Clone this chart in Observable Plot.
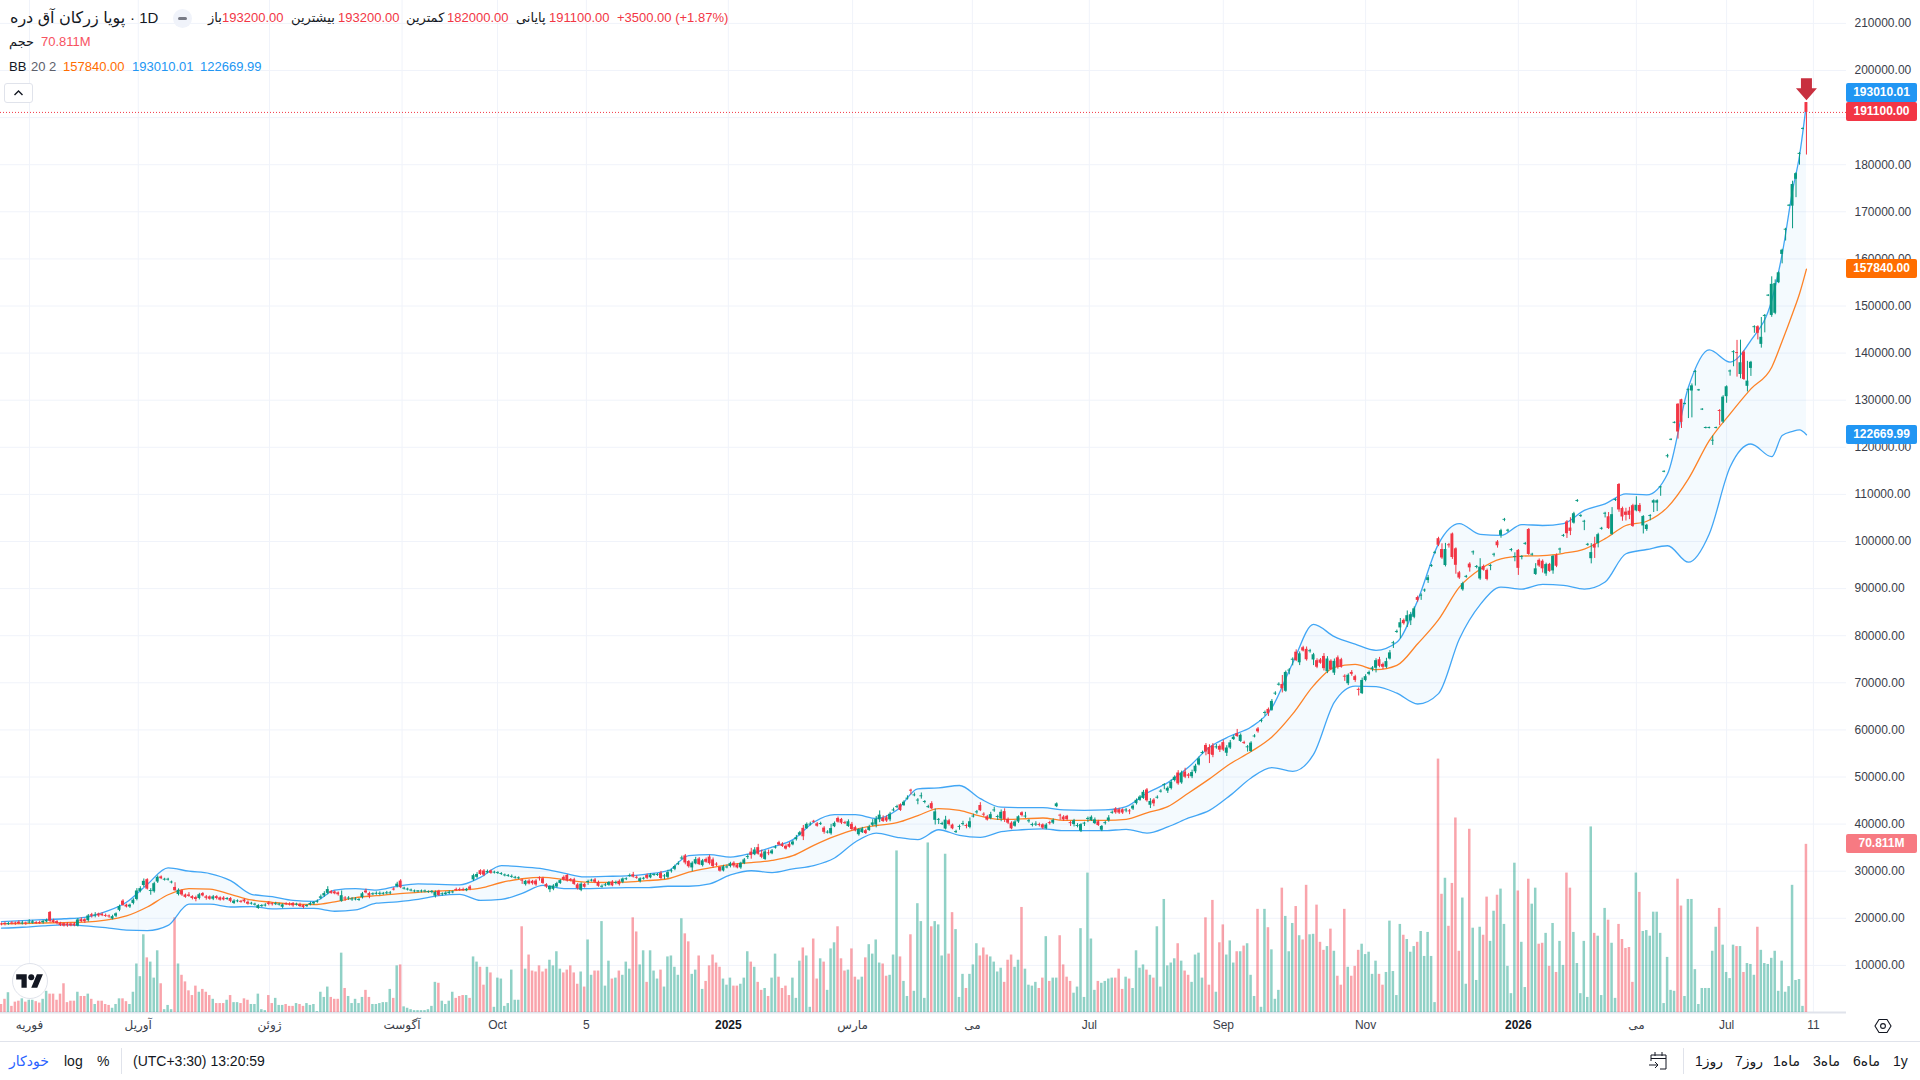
<!DOCTYPE html>
<html><head><meta charset="utf-8">
<script src="https://cdn.jsdelivr.net/npm/d3@7"></script>
<script src="https://cdn.jsdelivr.net/npm/@observablehq/plot@0.6"></script>
<style>
html,body{margin:0;padding:0;background:#fff;overflow:hidden}
body{width:1920px;height:1080px;position:relative;font-family:"Liberation Sans","DejaVu Sans",sans-serif;color:#131722}
svg{display:block}
.t{position:absolute;white-space:nowrap;font-size:13px;line-height:16px}
.tag{position:absolute;left:1846px;width:71px;height:19px;line-height:19px;color:#fff;font:bold 12px/19px "Liberation Sans",sans-serif;text-align:center;border-radius:2px}
.b{position:absolute;white-space:nowrap;font-size:14px;line-height:18px;top:1052px;color:#131722}
.r{color:#f23645}
</style></head><body>
<div id="chart"></div>
<script>
// Prices are in thousands on the right-hand scale.
const directions =
"rrgrrrgrgg"+"rrggrrrrrr"+"rrgrrgrgrr"+"rrgggrrggg"+"ggrgggrggg"+"rgrrrrrgrr"+"rgrrrgrggr"+"rrgggggrrg"+"ggrrrgrrgg"+"gggggrrrgr"+"gggggrrggg"+"gggrgrgggg"+"ggggggrggg"+"grrrgrggrr"+"grgg"+
"ggggggrgrr"+"rrrrggggrr"+"rrrgrggrrg"+"ggrgrgggrr"+"ggrgggrggg"+"gggrrggrgr"+"rrrrgggrrg"+"ggrgrrgrgg"+"rrrrgggrgg"+"rrgrgggrrr"+"grrggrgggg"+"rrgggrggrg"+"ggggrggggr"+"rgggrgggrr"+"rggg"+
"grrrggrggg"+"grrgrggrrr"+"rgggggggrg"+"gggrrrgrgg"+"ggrgrggggg"+"grgrrggggr"+"rrgrrgggrg"+"rgggrggrgg"+"grgggrgrrg"+
"grrrgrgrrr"+"grrrgggggr"+"rgggggrggg"+"rgggggrrgr"+"rrrggrgggr"+"rggrgggggr"+"ggrggrrgrg"+"rggrrggggg"+"grgggrggrr"+"rrrgrggggg"+"gggggrrggg"+"gggggggrgg"+"ggrgrgggrg"+"gggggggggg"+"ggr";

const volumes = [
1.7,2.8,4.2,1.3,2.2,2.4,2.9,2.2,2.6,2.6,2.3,2,2.8,4.5,3.9,3.9,2.6,3.9,6.1,2.1,
2.4,2.4,4.3,3.4,3.4,3.9,2.8,1.7,2.4,2.4,1.7,1.5,.9,1.7,2.9,2.9,2.3,1.7,4.3,10.3,
7.6,16.5,11.6,10.7,7.3,13.1,6.1,.6,1.5,.6,20.1,10.3,7.9,6.5,4.6,3.6,5.6,4.3,4.9,4.3,
3.6,2.8,1.9,1.9,1.9,2.6,3.6,2.1,2.1,1.9,2.9,2.6,1.7,1.7,3.9,.6,.4,3.6,1.9,3,
1.5,1.5,1.7,1.3,1.3,1.9,1.7,1.3,1.9,1.5,1.7,.2,4.3,3.2,5.4,3.2,2.8,2.8,12.6,5.1,
3.4,1.9,2.8,1.9,3.2,4.7,3.2,1.7,1.7,1.9,2.1,2.1,4.9,3,9.9,10.1,1.2,.9,.6,.4,
.4,.4,.4,.6,1.3,6.4,6.2,2.4,1.7,2.4,4.3,3,3.4,3.6,3.6,3,11.8,10.7,9.6,5.8,
9.6,8.4,1.1,7.3,
7.1,1.3,1.9,9,2.6,2.6,18.2,9.2,12.2,8.8,8.6,9.9,8.6,9.2,11.1,9.9,12.9,9.2,8.4,9,
9.9,8.4,6,8.6,5.4,15.4,7.9,8.8,8.8,19.3,5.6,10.9,7.1,7.3,8.8,7.9,10.7,9.2,20.1,17.1,
10.1,13.1,6.4,13.1,8.8,7.1,9,5.4,11.8,12,9.6,7.9,19.9,16.7,15,8.1,9,12,4.9,6.6,
9.9,12.2,10.5,9.6,7.1,5.8,7.3,5.6,5.6,6,7.3,12.9,10.7,9.6,6.4,4.7,5.1,3.4,7.3,12.4,
7.5,5.1,5.6,3.6,7.3,3,10.9,13.7,12,1.1,15.6,7.1,11.4,10.7,4.7,13.5,14.8,18.2,11.4,8.8,
9,13.5,7.5,6.9,7.5,11.6,14.4,12.4,15.4,10.5,10.3,7.7,7.9,12.2,34.3,11.8,6.6,3.4,16.5,4.5,
23.1,19.3,3,36,18.2,19.3,18.6,12,33.6,12.4,21.2,17.6,3.2,8.1,5.1,8.1,10.1,14.6,12,13.7,
12.2,11.8,10.7,8.6,
9.4,6.4,11.1,12.2,9.6,11.1,22.3,9.2,5.8,5.6,6.4,5.1,7.3,16.1,6.6,7.3,7.3,16.3,10.1,7.5,
6.6,4.1,5.4,17.8,3.2,29.6,15.6,4.7,6.6,6.2,6.6,7.1,7.3,7.3,9.2,4.9,7.5,7.1,5.1,13.1,
9.4,10.1,9,7.9,7.3,18.2,5.4,24,9.9,10.5,11.4,14.6,10.9,8.8,7.9,6.4,12.2,12.6,7.3,20.1,
5.8,23.8,4.3,14.8,18.6,12.2,15.2,10.5,12.9,12.9,14.1,14.6,7.9,3.4,21.9,1.1,21.9,18,13.3,2.8,
4.7,26.4,20.4,12.9,18.9,22.5,16.3,15.4,27,16.5,
16.6,22.8,14.9,13.2,14,17.7,13,7.7,5.8,21.9,9.6,7.7,9.8,13.2,14.5,12.3,12.8,8.1,10.9,8.1,
5.8,8.5,19.4,8.7,3.6,18.7,16.4,15.5,12.8,14,14.9,17.2,11.9,17,11.9,2.1,53.8,25.1,28.5,18.3,
27.4,41.3,13,24.3,6,38.9,17.9,6.8,18.1,16.4,24.5,15.1,21.5,24.9,26.2,18.7,9.8,4,31.7,25.8,
14.9,5.3,28.3,23,26.4,14.5,14.7,16.8,9.8,18.9,8.5,15.1,10,29.6,26.4,17,10.4,4,15.1,3.2,
39.4,16.8,16.2,3.6,22.1,19.6,14.7,3,18.7,15.5,13.6,13.8,6.4,29.6,25.5,17.2,17.4,16.2,21.3,21.3,
16.8,1.9,11.7,4.7,4.5,28.3,22.6,3.4,24,24,9.1,1.7,5.1,5.1,5.1,13,18.1,22.1,14.3,8.5,
7.2,14.3,14,14,8.5,10.4,10.2,7.9,18.1,13.2,10.4,10.2,11.5,13,4.5,10.9,4.3,5.5,27,6.8,
7,1.3,35.7];

const bodyMid = [
18.7,18.8,18.8,18.9,18.9,19,18.9,18.9,19.1,19.1,19,19,19.2,19.4,20.3,19.3,19.1,18.7,18.6,18.6,
18.6,18.6,19,19.5,19.5,20,20.6,20.6,20.7,20.7,20.5,20.4,20.1,20.7,22.1,23.2,22.6,22.6,23.5,24.9,
26,27.4,27.2,25.8,26.5,28.2,28.6,28.2,28.2,27.6,26.2,25.5,25.4,24.7,24.8,24.4,24.2,24.6,25,24.4,
24.3,24.3,24.4,24.1,24.1,24.1,23.9,23.4,23.6,23.5,23.7,23.2,23.1,22.9,22.4,22.6,22.7,23.1,23,23,
22.9,22.6,23,22.9,22.9,22.9,22.7,22.5,22.6,23,23.2,23.5,24.4,25,25.7,25.5,25.4,25.2,24.2,24.2,
24.2,24,24,23.9,24.8,25.6,25,25.1,25.2,25.2,25.2,25.3,25.3,26.1,27,27.2,26.3,26.1,25.9,25.7,
25.7,25.7,25.7,25.6,25.6,25.1,25.3,25.1,25.2,25.4,25.5,26,26,26,26,26.4,28.6,29,29.7,29.6,
29.8,29.8,29.7,29.6,
29.4,29.1,29,28.8,28.6,28.5,28,27.5,27.6,27.6,27.5,28.5,27.9,26.9,26.4,26.5,27,27.7,28.4,28.5,
28.1,27.7,26.7,26.6,26.9,27.7,28,27.9,27.2,26.7,27,27.3,27.3,27.5,27.5,28,28.3,29,29,28.6,
28.1,28.4,28.8,28.9,29.2,29.2,29,28.9,29.2,30,30.7,31.5,32.7,32.5,31.5,31.2,32,32,31.7,32.2,
32.3,31.7,31.4,30.4,30.5,30.8,31.3,31.4,31,31.2,32,33,33.7,34,34.3,33.3,33.3,33.8,34,35,
35.8,35.5,35,35.4,35.9,36.9,37.9,38.2,39.5,39.9,40.5,39.8,40,38.7,38.2,38.5,39.8,40.8,40.6,40.2,
40,39.4,38.9,38.3,38.6,38.3,39,40,40.4,41.4,40.9,41,41.5,42.9,43.6,43.5,44.3,45.4,47.1,46.1,
45,45.9,44.7,43.6,43.8,41.7,40.9,40,39.9,40.3,39.4,38.3,39.4,40,39.6,39.9,41.6,42.5,43.4,42,
41.2,41.6,42.9,41.5,
41.8,41.8,40.6,39.6,40,41,42.1,41.6,40.6,39.8,39.9,39.8,39.5,39.4,40.2,40.5,44,41.8,41.2,41.3,
40.2,40.3,39.6,39.2,40.1,41.1,41.1,40.5,40.1,39.1,40.2,41,42.4,42.8,42.7,42.7,42.9,42.7,43.5,44.7,
45.4,46.1,46.1,44.4,44.7,45.6,46.9,48.3,47.3,48.2,49.6,49.7,49.8,50.5,50.3,50.5,51.7,53.2,55.1,56,
55.5,55.6,56.3,56.1,56.5,55.6,56.7,58.2,58.9,58.2,57.2,56.3,56.3,58.6,59.9,61.9,63.6,63.9,65.1,67.7,
69.6,69.2,70.2,72.6,74.9,75.6,75.2,77.1,76,76.7,75.4,74,74.5,74.3,73.7,73.7,73.3,74.3,74.1,71.3,
70.7,72,70.9,68.5,69.1,70.9,72,73,73.9,74.2,73.6,73.9,75.7,78.4,80.8,82.2,
82.9,83.6,83.8,84.8,87.8,88.5,89.6,92,94.8,97.6,99.9,97.4,96.6,99.2,99.1,96.7,92.8,90.4,92.5,94.8,
97.7,94.6,93.3,94.3,92.9,94.8,97.2,99.5,101.8,104.6,102.3,98.2,96.7,96.2,96.7,99.5,99.9,97.2,93.6,95.4,
95,94.1,94.4,95.3,95.9,98.3,101.2,102.9,102.5,104.9,108.6,105.4,104.2,99.3,97,99,100.5,102.7,105.9,104,
103.6,108.8,109.4,106.1,105.9,106,105.4,107.1,107,104.3,103,105.4,108.4,108.4,
111.5,114.8,118.1,121.6,125.2,126.2,127.7,129.2,132.2,132.5,136,132.1,128,124.1,124.1,121.4,124.1,127.7,128,131.8,
136.1,140.2,140,136.7,137.3,133.5,137.4,145.5,144.9,142.6,147.9,152.2,151.3,151.6,156,161.4,166.2,171.3,173.5,177.5,
182.3,187.6,192.15];

const bodySize = [
.2,.2,.2,.2,.2,.3,.2,.2,.2,.3,.2,.2,.3,.3,1.9,.4,.4,.5,.5,.4,
.4,.4,1.3,.4,.4,1,.3,.2,.4,.3,.2,.2,.5,.5,.8,.9,.4,.4,.7,1.8,
.6,.9,2,.2,1.7,1,.4,.2,.2,.2,.7,.9,.9,.5,.3,.4,.4,.8,.5,.3,
.5,.5,.4,.5,.4,.2,.6,.5,.2,.2,.4,.4,.2,.2,.6,.2,.2,.3,.2,.2,
.2,.5,.2,.2,.5,.2,.4,.4,.2,.3,.3,.2,.3,.5,.8,.4,.4,.4,1.2,.2,
.2,.2,.2,.2,.8,.4,.5,.2,.2,.2,.2,.2,.2,.2,.5,1.4,.2,.2,.2,.2,
.2,.2,.2,.2,.2,.8,.9,.2,.3,.3,.2,.2,.2,.2,.3,.5,.9,.6,.8,.9,
.3,.5,.2,.2,
.2,.2,.2,.2,.2,.2,.2,.7,.6,.5,.8,.2,1,.5,.7,.7,.7,.6,.6,1.2,
.3,1,.8,1.3,.6,.2,.2,.5,.8,.2,.2,.6,.8,.2,.7,.7,.2,.2,.5,.2,
.6,.2,.6,.6,.2,.2,1.1,.2,1,.2,.6,.2,.2,1.5,1.1,1,.9,1.2,1,.6,
1.4,1.4,.2,.8,.9,.2,.6,.6,.6,1,.8,.2,.7,1,1.4,.7,1.6,.2,.6,.2,
.5,.5,.6,.6,.6,.4,.5,1.8,.9,.2,.2,.5,.2,.9,.2,1.1,.7,.8,.8,.2,
1,1.1,.7,1.1,.8,.6,.7,.5,1.2,1,.7,.7,1.2,.2,.2,1.2,.7,.2,.2,.2,
.2,.2,.2,.2,1.1,1.8,.2,.2,1.9,.8,.8,.2,.2,.2,.2,1.2,.2,.2,1.1,.2,
.7,.8,.2,.2,
1.4,1.7,.8,1.2,.9,1.1,.6,.2,.2,.2,.2,.2,.7,.8,.2,.6,.6,.2,.6,.7,
.2,.8,.2,1.4,.2,.2,.7,.8,.8,.8,.2,.6,.2,.8,.7,.7,.2,.2,.6,.7,
.7,1.3,2.3,.8,.8,.2,.2,.2,.6,1.3,.7,2.3,2.1,1.1,.3,.9,1.2,1.3,.2,1.4,
1.5,2,.2,.8,1.6,1.1,1.1,.5,.6,1.3,.2,.2,1.8,.2,.6,.2,.2,.9,1.9,.2,
.2,.9,4,.2,.2,1.8,1.9,.7,2.2,.2,1.1,1.4,.7,2.6,2.7,1.8,2.5,2,1.6,.2,
1.8,.4,.8,.2,2.8,.8,.4,.3,1.6,1.4,.6,1.2,1.3,.2,.2,1.1,
.7,1.3,1.3,1.8,.6,.2,.2,.6,.2,.2,1.4,1.8,3.4,.2,5,3.5,1.1,1.3,.2,.8,
.2,.2,2.5,.8,1.9,.2,.2,.8,1,.2,.2,.2,.2,3.8,.2,.2,5.3,.2,1.2,1.2,
1.6,2,1.5,3.1,2.3,.2,.2,2.5,.7,2,.2,.2,.2,.2,1.3,.8,1.9,.2,.2,2.5,
4.2,.2,5.4,1.8,.7,.9,4.4,1.2,1.3,2,.9,.2,.5,.5,
.2,.2,.2,.2,.2,5.9,4.8,.2,.2,1.1,.2,.2,.2,.2,.2,.2,.2,.2,5.3,2.1,
.2,.2,.2,2.5,5.8,1.1,1.3,.2,1.4,1.5,.2,.2,6.6,6.3,2.1,.9,.2,.2,4.6,1.2,
.2,.2,2.1];

const wickUp = [
.2,.3,.2,.3,.2,.3,.4,.2,.5,.3,.2,.3,.2,.3,.2,.3,.2,.2,.2,.3,
.2,.3,.3,.4,.2,.3,.3,.5,.2,.3,.3,.2,.3,.2,.3,.3,.2,.2,.3,.5,
.4,.5,.2,.4,.3,.3,.2,.2,.2,.2,1,.3,.2,.2,.5,.2,.3,.3,.2,.3,
.2,.3,.2,.2,.3,.2,.2,.3,.2,.2,.2,.3,.2,.2,.2,.2,.3,.3,.2,.3,
.2,.2,.2,.3,.2,.2,.3,.2,.2,.3,.2,.3,.4,.4,.6,.2,.2,.2,1,.3,
.3,.3,.3,.2,.3,.4,.3,.2,.3,.3,.2,.3,.3,.3,.4,.3,.2,.2,.2,.2,
.1,.2,.2,.1,.2,.3,.2,.2,.3,.3,.2,.3,.3,.3,.2,.3,.3,.4,.2,.3,
.3,.2,.2,.2,
.2,.2,.2,.3,.2,.2,.2,.2,.3,.2,.3,.2,.3,.2,.2,.3,.3,.2,.3,.2,
.2,.3,.3,.3,.2,.3,.2,.3,.3,.3,.3,.2,.3,.3,.3,.2,.2,.3,.5,.3,
.2,.2,.3,.3,.2,.2,.4,.3,.5,.3,.3,.4,.4,.3,.2,.3,.5,.3,.3,.3,
.4,.4,.3,.2,.3,.4,.3,.3,.3,.2,.3,.4,.8,.5,.7,.8,.3,.6,.3,.3,
.3,.3,.3,.4,.3,.5,.3,.6,.3,.4,.2,.3,.3,.3,.3,.9,.3,.3,.2,.3,
.4,.4,.3,.2,.3,.3,.4,.7,.6,.9,.5,.4,.4,.4,.3,.2,.3,.5,.2,.4,
.3,.6,.2,.3,.4,.6,.2,.3,.8,.3,.2,.3,.3,.5,.3,.8,.4,.3,.6,.3,
.3,.5,.6,.3,
.5,.6,.3,.3,.3,.2,.2,.8,.3,.3,.5,.3,.2,.3,.3,.3,.2,.2,.3,.2,
.3,.3,.4,.2,.2,.3,.3,.4,.3,.2,.3,.5,.3,.3,.3,.2,.3,.3,.3,.3,
.3,.4,.3,.6,.3,.3,.3,.2,.3,.5,.3,.5,.4,.8,.3,.5,.4,.4,.3,.4,
.6,.5,.5,.3,.5,.5,.5,.4,.9,.3,.3,.3,.3,.3,.3,.3,.3,.3,.4,.3,
.3,1.9,.3,.3,.3,.5,.4,.3,.5,.3,.3,.4,.3,.6,.5,.3,.5,.4,.3,.3,
.3,.4,.3,.3,.5,.4,.3,.3,.4,.5,.3,.7,.5,.3,.3,.9,
.3,1,.5,.4,.3,.3,.2,.5,.2,.2,.3,1.2,1.3,.3,.2,.2,.3,.3,.2,.3,
.2,.2,1.8,.3,.3,.2,.2,.3,.3,.2,.2,.2,.8,.2,.2,.2,.2,.2,1.1,.3,
.3,.3,.2,.2,.3,.2,.2,.3,2.2,.3,.2,.2,.2,.2,1.9,1.5,.3,.2,.2,.9,
1.5,.2,.2,.3,.8,.8,.3,1.8,.4,.2,.2,.2,.2,.2,
.1,.1,.3,.1,.1,.1,.1,.1,.1,.4,.2,.1,.1,.1,.1,.9,.1,.2,.3,.2,
.2,.2,2.6,4.8,.3,4.2,.2,.2,.2,4.2,.2,.1,1.6,.8,.2,.2,.2,.1,.7,.2,
.2,.1,0];

const wickDown = [
.2,.3,.2,.2,.3,.2,.2,.3,.2,.2,.2,.2,.3,.2,.3,.2,.3,.2,.2,.3,
.2,.2,.2,.2,.4,.3,.4,.4,.3,.2,.2,.3,.2,.3,.3,.2,.2,.3,.3,.3,
.3,.4,.2,.8,.3,.3,.2,.2,.2,.2,.1,.3,.3,.2,.2,.3,.5,.3,.2,.4,
.2,.3,.3,.2,.2,.2,.3,.2,.2,.2,.3,.2,.2,.2,.2,.2,.2,.3,.3,.2,
.2,.3,.2,.2,.3,.2,.2,.3,.2,.2,.3,.2,.3,.3,.3,.2,.2,.3,.2,.5,
.3,.3,.2,.2,.3,.2,.6,.2,.2,.3,.2,.2,.2,.2,.3,.2,.2,.2,.2,.2,
.2,.2,.2,.2,.3,.4,.2,.3,.2,.2,.2,.2,.2,.2,.2,.3,.3,.3,.2,.3,
.2,.2,.2,.2,
.2,.2,.2,.2,.2,.2,.7,.3,.2,.3,.3,.5,.2,.3,.6,.3,.2,.2,.2,.2,
.2,.2,.3,.3,.2,.6,.2,.3,.2,.2,.2,.2,.2,.3,.3,.3,.2,.2,.2,.2,
.3,.2,.3,.2,.2,.2,.3,.6,.3,.3,.3,.2,.2,.4,.3,.8,.2,.2,.3,.2,
.3,.4,.3,.2,.2,.2,.3,.4,.2,.3,.2,.4,.8,.2,.2,.3,.2,.4,.2,.2,
.2,.2,.2,.2,.2,.3,.2,.8,.2,.2,.2,.2,.2,.4,.2,.3,.2,.2,.3,.2,
.2,.3,.2,.3,.2,.2,.2,.3,.6,.6,.2,.3,.4,.2,.2,.2,.2,.2,.8,.2,
.8,.5,.3,.2,.2,1,.9,.2,.2,.3,.2,.2,.6,.3,.5,.3,.2,.3,.2,.4,
.2,.3,.3,.6,
.6,.6,.3,.2,.2,.3,.3,.3,.3,.3,.3,.3,.3,.2,.3,.3,.2,.9,.3,.3,
.6,.5,.3,.3,.5,.7,.2,.2,.2,.3,.3,.3,.2,.3,.3,.3,.4,.6,.3,.3,
.2,.2,.3,.7,.6,.2,.2,.9,.5,.3,.3,.3,.3,.3,.5,.4,.4,.2,.2,.8,
1.9,.5,.3,.5,.3,.7,.3,.2,.2,.2,.2,.9,.2,.2,.3,.3,.6,.6,.2,.3,
.2,.9,.2,.8,1.2,.2,.6,.2,.3,.3,1.2,.3,.2,.5,.4,.2,.5,.4,.2,.9,
.4,.4,.4,1.2,.2,.3,.3,.5,1,.3,.5,.3,.2,1,.2,2.3,
.3,1.2,1,.3,.4,.9,.3,.6,.2,.2,.3,.3,.3,.5,.4,1.9,.3,.3,.2,.9,
.5,.3,.3,.2,.3,.9,.4,.5,.6,.3,.3,.3,.9,1.5,.5,.2,.2,.2,.2,.3,
.9,.5,.2,.7,.3,.8,.2,1,.9,.2,.2,.2,1.8,.2,1.1,2.2,.9,.2,.8,.2,
.2,.2,.5,.9,1.2,.9,.2,.2,.3,1.7,.4,.9,2,1.8,
1.8,.1,.3,.1,.1,1.5,1.3,.1,6,5.7,2.9,.1,.1,.1,.1,.9,.1,3,.3,1.4,
.9,3,5,.9,.2,1.2,1.7,1.2,1.4,.8,3.5,.1,.4,.3,.2,2,2.3,.1,4.8,3.9,
2.3,.1,9.05];

const bandIndex = d3.range(0,516,6).concat([513,516,518,520]);
const bandUpper = [
19.3,19.5,19.7,19.9,20.2,21.4,23.4,27.2,30.7,30,29.5,28,25.1,24.6,23.8,23.6,26,26.3,26,26.8,27.3,27.2,27.1,28.7,
31.2,30.9,30.5,29.6,28.8,28.9,29,29.4,30.1,33.3,33.5,33,33.8,35.1,36.7,40.4,42,42,41.2,43,47.5,47.7,48.2,45.4,
43.6,43.5,43.5,43,42.9,43,43.7,46.6,48.8,52.1,56.3,58.7,60.6,64.7,74.2,82.4,79.8,78.2,76.9,78.6,
87.5,99.5,103.8,101.5,101.3,103.6,103.4,103.8,106.6,108,110.1,109.9,
114.4,132.8,140.7,138.1,142.7,151.2,161,174.5,181.9,193.01];
const bandMiddle = [
18.8,18.9,19,19.1,19.2,19.6,20.5,22.4,25,26.3,26.2,25.1,23.9,23.4,23,22.9,23.5,24.4,24.8,25.2,25.5,25.8,26,26.4,
27.6,28.4,28.7,28.2,27.7,27.6,27.7,28,28.4,29.8,30.7,31.4,31.8,32.3,33.3,35.5,37.4,38.9,39.7,40.3,41.8,43.3,42.9,41.7,
41,41.1,41.3,40.8,40.8,40.8,41,42.4,43.7,46.6,49.6,52.8,55.4,58.5,63.4,69.4,73.3,73.9,72.8,73.7,
78.3,83.4,90.3,94.1,96.3,96.9,97,97.5,98.4,100.6,103.4,104.3,
107.3,113.3,121.4,127.1,132.4,137,142.5,148.4,152.6,157.84];
const bandLower = [
17.9,18.1,18.4,18.6,18.4,18,17.5,17.4,18.5,23,23,22.4,22.5,22,22.1,22.1,21.5,21.8,23.2,23.5,24,24.8,25.1,23.8,
24,25.3,27,26.3,26.3,26.4,26.5,26.5,26.8,26.8,27.3,29.2,30.1,29.7,30.5,31.2,32.8,36.2,38.1,37.2,36.7,38.8,37.6,37.2,
38.4,38.8,39,38.6,38.6,38.6,38.9,38.1,39.4,41.3,42.9,46.1,49.8,52,51.2,54.8,65.9,69.3,69.2,67.8,
65.5,67.7,79.3,86.6,90.3,89.9,90.9,90.7,89.9,91.4,97.4,98.3,
99.1,95.6,101.6,115.8,120.7,118,122.5,123.4,123.7,122.67];

const xTickIndex = [8.07,39.4,77.2,115.4,142.9,168.5,209.4,245.2,279.7,313.4,352,393,437,471,497,522];
const xTickLabels = ["فوریه","آوریل","ژوئن","آگوست","Oct","5","2025","مارس","می","Jul","Sep","Nov","2026","می","Jul","11"];
const boldTicks = ["2025","2026"];
const yTicks = d3.range(10000,210001,10000);
const yTickLabelled = yTicks.filter(v=>v!==190000); // the 190000 label sits under the last-price tag
const lastPrice = 191100, alertPrice = 196000;

const GREEN="#089981", RED="#f23645", BLUE="#2196f3", ORANGE="#ff6d00", GRID="#f0f3fa";
const bars = bodyMid.map((m,i)=>{
  const half=bodySize[i]/2, top=m+half, bot=m-half;
  return {i, color:directions[i]==="g"?GREEN:RED,
    bodyTop:top*1000, bodyBot:bot*1000,
    high:(top+wickUp[i])*1000, low:(bot-wickDown[i])*1000, vol:volumes[i]*1000};
});
const band = bandIndex.map((i,k)=>({i,u:bandUpper[k]*1000,m:bandMiddle[k]*1000,l:bandLower[k]*1000}));
const labelOf = new Map(xTickIndex.map((t,k)=>[t,xTickLabels[k]]));
const boldIdx = xTickIndex.filter(t=>boldTicks.includes(labelOf.get(t)));
const normIdx = xTickIndex.filter(t=>!boldTicks.includes(labelOf.get(t)));
const arrow = {draw(c,size){const r=Math.sqrt(size/Math.PI);const u=r/11;
  c.moveTo(-5.5*u,-11*u);c.lineTo(5.5*u,-11*u);c.lineTo(5.5*u,-1*u);c.lineTo(10.5*u,-1*u);
  c.lineTo(0,11*u);c.lineTo(-10.5*u,-1*u);c.lineTo(-5.5*u,-1*u);c.closePath();}};

const chart = Plot.plot({
  width:1920,height:1080,marginLeft:0,marginRight:74,marginTop:0,marginBottom:68,
  style:{fontFamily:'"Liberation Sans","DejaVu Sans",sans-serif',fontSize:"12px",background:"#fff",color:"#131722"},
  x:{domain:[-0.288,531.54]},
  y:{domain:[0,214862]},
  color:{type:"identity"},
  marks:[
    Plot.gridX(xTickIndex,{stroke:GRID,strokeOpacity:1}),
    Plot.gridY(yTicks,{stroke:GRID,strokeOpacity:1}),
    Plot.ruleY([0],{stroke:"#e0e3eb",strokeWidth:2}),
    Plot.axisY(yTickLabelled,{anchor:"right",tickSize:0,tickPadding:8,tickFormat:d=>d.toFixed(2),label:null,fill:"#3a3e4a"}),
    Plot.axisX(normIdx,{anchor:"bottom",tickSize:0,tickPadding:8,tickFormat:d=>labelOf.get(d),label:null,fill:"#3a3e4a"}),
    Plot.axisX(boldIdx,{anchor:"bottom",tickSize:0,tickPadding:8,tickFormat:d=>labelOf.get(d),label:null,fill:"#131722",fontWeight:"bold"}),
    Plot.rectY(bars,{x1:d=>d.i-.36,x2:d=>d.i+.36,y1:0,y2:"vol",fill:"color",fillOpacity:.45}),
    Plot.areaY(band,{x:"i",y1:"l",y2:"u",fill:BLUE,fillOpacity:.05,curve:"monotone-x"}),
    Plot.line(band,{x:"i",y:"m",stroke:ORANGE,strokeWidth:1.3,strokeOpacity:.85,curve:"monotone-x"}),
    Plot.line(band,{x:"i",y:"u",stroke:BLUE,strokeWidth:1.3,strokeOpacity:.85,curve:"monotone-x"}),
    Plot.line(band,{x:"i",y:"l",stroke:BLUE,strokeWidth:1.3,strokeOpacity:.85,curve:"monotone-x"}),
    Plot.ruleY([lastPrice],{stroke:RED,strokeDasharray:"1,2",strokeWidth:1}),
    Plot.ruleX(bars,{x:"i",y1:"low",y2:"high",stroke:"color",strokeWidth:1}),
    Plot.rect(bars,{x1:d=>d.i-.42,x2:d=>d.i+.42,y1:"bodyBot",y2:"bodyTop",fill:"color"}),
    Plot.dot([{i:520,p:alertPrice}],{x:"i",y:"p",r:11,symbol:arrow,fill:"#c8303f",stroke:"none"})
  ]
});
document.getElementById("chart").appendChild(chart);

const sy = chart.scale("y").apply;
const add = (cls,style,html)=>{const d=document.createElement("div");d.className=cls;d.style.cssText=style;d.innerHTML=html;document.body.appendChild(d);return d;};
// Price tags on the right axis
[[193010.01,"193010.01",BLUE,-10.5],[lastPrice,"191100.00",RED,0],[157840,"157840.00",ORANGE,0],[122669.99,"122669.99",BLUE,0],[35700,"70.811M","#f77a82",0]]
  .forEach(([v,t,c,off])=>add("tag",`top:${sy(v)-9.5+off}px;background:${c}`,t));

// Legend lines
const hdr=[
 [10,18,"پویا زرکان آق دره","font-size:16px"],[130,18,"· 1D","font-size:15px"],
 [208,18,"باز",""],[222,18,"193200.00","color:#f23645"],
 [291,18,"بیشترین",""],[338,18,"193200.00","color:#f23645"],
 [406,18,"کمترین",""],[447,18,"182000.00","color:#f23645"],
 [516,18,"پایانی",""],[549,18,"191100.00","color:#f23645"],
 [617,18,"+3500.00 (+1.87%)","color:#f23645"],
 [9,42,"حجم",""],[41,42,"70.811M","color:#f7525f"],
 [9,67,"BB",""],[31,67,"20 2","color:#5d606b"],[63,67,"157840.00","color:#ff6d00"],[132,67,"193010.01","color:#2196f3"],[200,67,"122669.99","color:#2196f3"]
];
hdr.forEach(([x,y,t,s])=>add("t",`left:${x}px;top:${y-8}px;${s}`,t));
add("t","left:173px;top:9px;width:19px;height:19px;border-radius:50%;background:#f0f3fa","<div style='width:9px;height:3px;border-radius:2px;background:#787b86;margin:8px 5px'></div>");
add("t","left:4px;top:83px;width:29px;height:20px;border:1px solid #e0e3eb;border-radius:3px;box-sizing:border-box;background:#fff",
 "<svg width='27' height='18'><path d='M9.5 11l4-4 4 4' fill='none' stroke='#131722' stroke-width='1.4'/></svg>");

// Bottom bar
add("t","left:0;top:1041px;width:1920px;height:1px;background:#e0e3eb","");
add("t","left:121px;top:1048px;width:1px;height:26px;background:#e0e3eb","");
add("t","left:1683px;top:1048px;width:1px;height:26px;background:#e0e3eb","");
[[9,"خودکار","color:#2962ff"],[64,"log",""],[97,"%",""],[133,"(UTC+3:30) 13:20:59",""],
 [1695,"1روز",""],[1735,"7روز",""],[1773,"1ماه",""],[1813,"3ماه",""],[1853,"6ماه",""],[1893,"1y",""]]
 .forEach(([x,t,s])=>add("b",`left:${x}px;${s}`,t));

// Logo and icons
add("t","left:12px;top:963px;width:36px;height:36px;border-radius:50%;background:#fff;border:1.5px solid #e0e3eb;box-sizing:border-box",
 "<svg width='33' height='33' viewBox='0 0 36 36'><g transform='translate(3.5,8) scale(.82)'><path d='M14 22H7V11H0V4h14v18zM28 22h-8l7.5-18h8L28 22z' fill='#131722'/><circle cx='20' cy='8' r='4' fill='#131722'/></g></svg>");
add("t","left:1874px;top:1017px;width:18px;height:18px",
 "<svg width='18' height='18'><path d='M5 2.5h8l4 6.5-4 6.5H5L1 9z' fill='none' stroke='#131722' stroke-width='1.1'/><circle cx='9' cy='9' r='2.4' fill='none' stroke='#131722' stroke-width='1.1'/></svg>");
add("t","left:1648px;top:1050px;width:20px;height:20px",
 "<svg width='20' height='20'><path d='M3 5h15v14h-6M3 5v6M3 8.5h15M7 2v4M14 2v4M1 15h9M7 12l3 3-3 3' fill='none' stroke='#131722' stroke-width='1'/></svg>");
</script>
</body></html>
